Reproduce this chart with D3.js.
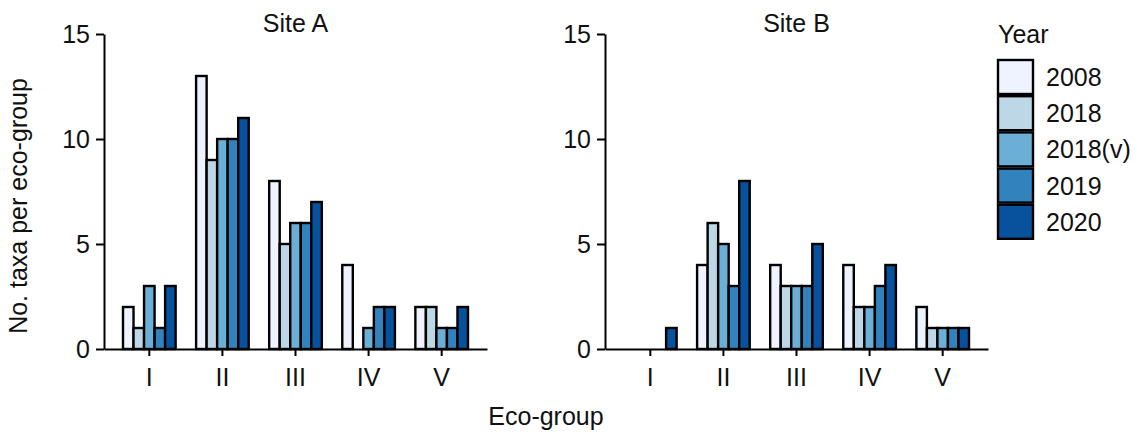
<!DOCTYPE html>
<html lang="en">
<head>
    <meta charset="UTF-8">
    <title>No. taxa per eco-group</title>
    <script src="https://d3js.org/d3.v7.min.js"></script>
    <style>
        body {
            margin: 0;
            background: #fff;
            font-family: 'Liberation Sans', Arial, sans-serif;
        }
        svg text {
            fill: #111;
        }
        .axis text {
            font-size: 25px;
            font-family: 'Liberation Sans', Arial, sans-serif;
        }
        .axis path, .axis line {
            stroke: #000;
            stroke-width: 2px;
        }
    </style>
</head>
<body>
    <div id="chart"></div>
    <script>
        const groups = ["I", "II", "III", "IV", "V"];
        const years = ["2008", "2018", "2018(v)", "2019", "2020"];
        const yearColors = ["#eff3ff", "#bdd7e7", "#6baed6", "#3182bd", "#08519c"];
        const yTicks = [0, 5, 10, 15];

        // values per eco-group, one entry per year
        const siteA = [
            [2, 1, 3, 1, 3],
            [13, 9, 10, 10, 11],
            [8, 5, 6, 6, 7],
            [4, 0, 1, 2, 2],
            [2, 2, 1, 1, 2]
        ];
        const siteB = [
            [0, 0, 0, 0, 1],
            [4, 6, 5, 3, 8],
            [4, 3, 3, 3, 5],
            [4, 2, 2, 3, 4],
            [2, 1, 1, 1, 1]
        ];

        const panels = [
            {title: "Site A", data: siteA, left: 104},
            {title: "Site B", data: siteB, left: 605}
        ];

        const panelWidth = 383;
        const plotTop = 34, plotBottom = 349;
        const fontSize = "25px";

        const svg = d3.select("#chart")
            .append("svg")
            .attr("width", 1140)
            .attr("height", 432);

        const y = d3.scaleLinear()
            .domain([0, 15])
            .range([plotBottom, plotTop]);

        const x = d3.scaleBand()
            .domain(groups)
            .range([0, panelWidth])
            .paddingInner(0.28)
            .paddingOuter(0.26);

        const xSub = d3.scaleBand()
            .domain(years)
            .range([0, x.bandwidth()]);

        const color = d3.scaleOrdinal().domain(years).range(yearColors);

        panels.forEach(p => {
            const g = svg.append("g")
                .attr("transform", `translate(${p.left},0)`);

            // Barras
            const grp = g.selectAll(".grp")
                .data(p.data)
                .enter()
                .append("g")
                .attr("transform", (d, i) => `translate(${x(groups[i])},0)`);

            grp.selectAll("rect")
                .data(d => d.map((v, j) => ({year: years[j], value: v})).filter(e => e.value > 0))
                .enter()
                .append("rect")
                .attr("x", d => xSub(d.year))
                .attr("y", d => y(d.value))
                .attr("width", xSub.bandwidth())
                .attr("height", d => y(0) - y(d.value))
                .attr("fill", d => color(d.year))
                .attr("stroke", "#000")
                .attr("stroke-width", 2.4);

            // Eje Y
            g.append("g")
                .attr("class", "axis")
                .call(d3.axisLeft(y).tickValues(yTicks).tickSize(8).tickSizeOuter(0).tickPadding(6));

            // Eje X
            g.append("g")
                .attr("class", "axis")
                .attr("transform", `translate(0,${plotBottom})`)
                .call(d3.axisBottom(x).tickSize(7).tickSizeOuter(0).tickPadding(12));

            g.append("text")
                .attr("x", panelWidth / 2)
                .attr("y", 32)
                .attr("text-anchor", "middle")
                .style("font-size", fontSize)
                .text(p.title);
        });

        // Etiquetas de ejes
        svg.append("text")
            .attr("transform", "rotate(-90)")
            .attr("x", -206)
            .attr("y", 27)
            .attr("text-anchor", "middle")
            .style("font-size", fontSize)
            .text("No. taxa per eco-group");

        svg.append("text")
            .attr("x", 546)
            .attr("y", 425)
            .attr("text-anchor", "middle")
            .style("font-size", fontSize)
            .text("Eco-group");

        // Leyenda
        const legend = svg.append("g")
            .attr("transform", "translate(998,0)");

        legend.append("text")
            .attr("x", 0)
            .attr("y", 43)
            .style("font-size", fontSize)
            .text("Year");

        const item = legend.selectAll(".legend-item")
            .data(years)
            .enter()
            .append("g")
            .attr("transform", (d, i) => `translate(0,${60 + i * 36.2})`);

        item.append("rect")
            .attr("width", 35)
            .attr("height", 34)
            .attr("fill", d => color(d))
            .attr("stroke", "#000")
            .attr("stroke-width", 2.4);

        item.append("text")
            .attr("x", 48)
            .attr("y", 26)
            .style("font-size", fontSize)
            .text(d => d);
    </script>
</body>
</html>
